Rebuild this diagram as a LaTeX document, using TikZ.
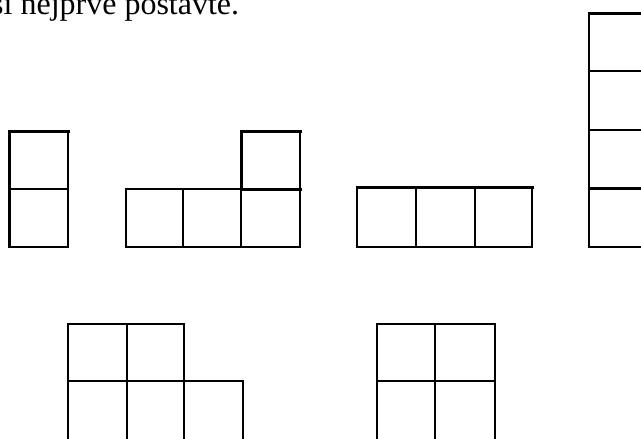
\documentclass[tikz,border=0pt]{standalone}
\usepackage{fontspec}
\setmainfont{Liberation Serif}
\begin{document}
\begin{tikzpicture}[x=1pt,y=-1pt,
  cell/.style={draw=black,line width=2.2pt,line cap=rect},
  thick edge/.style={draw=black,line width=3pt,line cap=rect}]
\useasboundingbox (0,0) rectangle (641,439);
\clip (0,0) rectangle (641,439);
% heading text
\node[anchor=base west,inner sep=0pt,font=\fontsize{32}{36}\selectfont] (title) at (-9,14) {si nejprve postavte.};
% shape 1: two stacked squares
\draw[cell] (9.5,131) rectangle (68,247);
\draw[cell] (9.5,189) -- (68,189);
\draw[thick edge] (9.5,131) -- (68,131);
% shape 2: L of four squares
\draw[cell] (126,189) rectangle (300,247);
\draw[cell] (183,189) -- (183,247);
\draw[cell] (241,189) -- (241,247);
\draw[cell] (241,131) rectangle (300,189);
\draw[thick edge] (241,131) -- (300,131);
\draw[thick edge] (241,131) -- (241,189) -- (300,189);
% shape 3: three in a row
\draw[cell] (357,187) rectangle (532,247);
\draw[thick edge] (357,187) -- (532,187);
\draw[cell] (416,187) -- (416,247);
\draw[cell] (475,187) -- (475,247);
% shape 4: four stacked (cut at right)
\draw[cell] (589,13) rectangle (647,247);
\draw[thick edge] (589,13) -- (647,13);
\draw[cell] (589,71) -- (647,71);
\draw[cell] (589,130) -- (647,130);
\draw[thick edge] (589,188) -- (647,188);
% shape 5: two over three (cut at bottom)
\draw[cell] (68,324) rectangle (184,381);
\draw[cell] (127,324) -- (127,381);
\draw[cell] (68,381) rectangle (243,445);
\draw[cell] (127,381) -- (127,445);
\draw[cell] (184,381) -- (184,445);
% shape 6: 2x2 square (cut at bottom)
\draw[cell] (377,324) rectangle (495,445);
\draw[cell] (435,324) -- (435,445);
\draw[cell] (377,381) -- (495,381);
\end{tikzpicture}
\end{document}
